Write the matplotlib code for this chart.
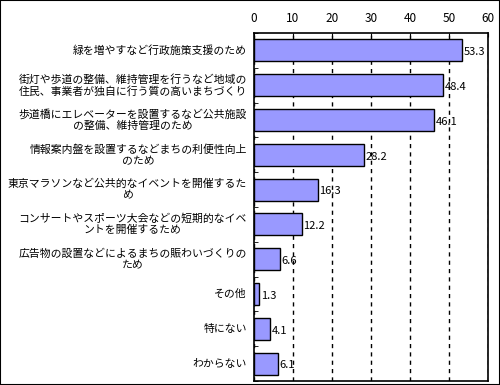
import numpy as np
from matplotlib import pyplot as plt

plt.rcParams['font.family'] = ['Noto Sans CJK JP', 'DejaVu Sans']

categories = [
    '緑を増やすなど行政施策支援のため',
    '街灯や歩道の整備、維持管理を行うなど地域の\n住民、事業者が独自に行う質の高いまちづくり',
    '歩道橋にエレベーターを設置するなど公共施設\nの整備、維持管理のため',
    '情報案内盤を設置するなどまちの利便性向上\nのため',
    '東京マラソンなど公共的なイベントを開催するた\nめ',
    'コンサートやスポーツ大会などの短期的なイベ\nントを開催するため',
    '広告物の設置などによるまちの賑わいづくりの\nため',
    'その他',
    '特にない',
    'わからない',
]
values = [53.3, 48.4, 46.1, 28.2, 16.3, 12.2, 6.6, 1.3, 4.1, 6.1]
xticks = [0, 10, 20, 30, 40, 50, 60]

fig = plt.figure(figsize=(5, 3.85), dpi=100)
ax = fig.add_axes([254 / 500, 4 / 385, 234 / 500, 348 / 385])

y = np.arange(len(categories))
ax.barh(y, values, height=0.63, color='#9999FF', edgecolor='black', linewidth=1, zorder=3)
for yi, v in zip(y, values):
    ax.text(v + 0.4, yi + 0.05, f'{v}', va='center', ha='left', fontsize=8, zorder=4)

ax.set_xlim(0, 60)
ax.set_ylim(len(categories) - 0.5, -0.5)
ax.xaxis.tick_top()
ax.set_xticks(xticks)
ax.tick_params(axis='x', direction='in', length=3, labelsize=8.5, pad=6)
ax.grid(axis='x', linestyle=(0, (3, 3)), color='black', linewidth=1, zorder=1)

ax.set_yticks(np.arange(len(categories) + 1) - 0.5, minor=True)
ax.set_yticks([])
ax.tick_params(axis='y', which='minor', direction='in', length=3)
for yi, c in zip(y, categories):
    ax.text(-0.03, yi, c, transform=ax.get_yaxis_transform(), ha='right', va='center',
            multialignment='center', fontsize=7.8, linespacing=1.15)

for s in ax.spines.values():
    s.set_linewidth(1.2)

fig.patches.append(plt.Rectangle((0, 0), 1, 1, transform=fig.transFigure, fill=False,
                                 edgecolor='black', linewidth=1.5))

plt.savefig('out.png', dpi=100)
